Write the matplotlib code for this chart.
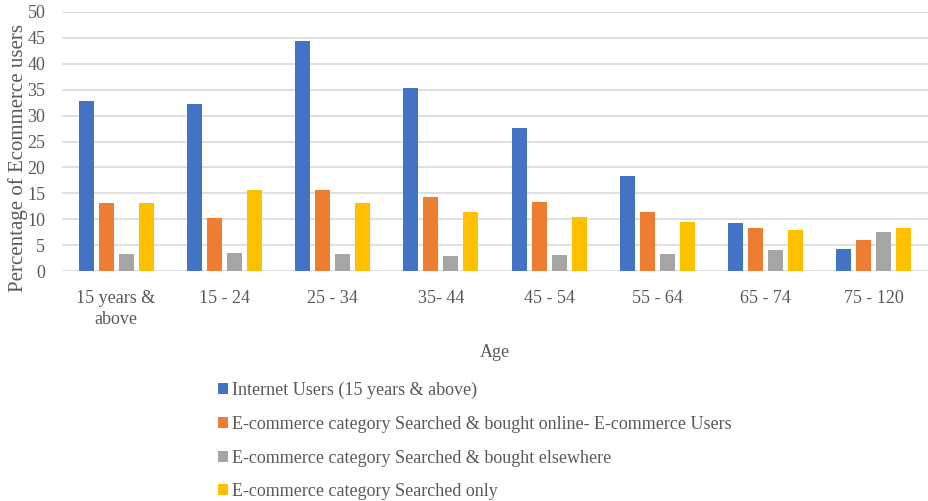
import matplotlib
matplotlib.use("Agg")
import matplotlib.pyplot as plt
import numpy as np
from matplotlib.patches import Patch

categories = ["15 years &\nabove", "15 - 24", "25 - 34", "35- 44", "45 - 54", "55 - 64", "65 - 74", "75 - 120"]
series_names = [
    "Internet Users (15 years & above)",
    "E-commerce category Searched & bought online- E-commerce Users",
    "E-commerce category Searched & bought elsewhere",
    "E-commerce category Searched only",
]
internet_users = [32.8, 32.3, 44.4, 35.4, 27.6, 18.3, 9.2, 4.2]
bought_online = [13.2, 10.2, 15.7, 14.3, 13.3, 11.4, 8.3, 5.9]
bought_elsewhere = [3.3, 3.5, 3.2, 2.9, 3.0, 3.2, 4.0, 7.5]
searched_only = [13.2, 15.6, 13.2, 11.4, 10.5, 9.4, 8.0, 8.3]
yticks = [0, 5, 10, 15, 20, 25, 30, 35, 40, 45, 50]

colors = ["#4472C4", "#ED7D31", "#A5A5A5", "#FFC000"]
txt = "#595959"
plt.rcParams['font.family'] = ['Liberation Serif', 'DejaVu Serif']

fig = plt.figure(figsize=(9.29, 5.01), dpi=100)
ax = fig.add_axes([62/929, 1-271/501, (928-62)/929, (271-12)/501])

x = np.arange(len(categories))
data = [internet_users, bought_online, bought_elsewhere, searched_only]
w = 0.14
step = 0.185
for i, (vals, c) in enumerate(zip(data, colors)):
    ax.bar(x + (i - 1.5) * step, vals, width=w, color=c, zorder=3)

ax.set_xlim(-0.5, len(categories) - 0.5)
ax.set_ylim(0, 50)
ax.set_yticks(yticks)
ax.set_xticks(x)
ax.set_xticklabels(categories, fontsize=13, color=txt, linespacing=1.3)
ax.tick_params(axis='y', labelsize=13, colors=txt, length=0, pad=12)
ax.tick_params(axis='x', length=0, pad=14)
ax.grid(axis='y', color='#D9D9D9', linewidth=1.2, zorder=0)
for s in ax.spines.values():
    s.set_visible(False)
ax.set_ylabel("Percentage of Ecommerce users", fontsize=15, color=txt)
ax.yaxis.set_label_coords((28-62)/866, (271-158)/259)
ax.set_xlabel("Age", fontsize=13, color=txt, labelpad=11)

handles = [Patch(facecolor=c) for c in colors]
fig.legend(handles, series_names, loc='upper left', bbox_to_anchor=(218/929, 1-382/501),
           frameon=False, fontsize=13, labelcolor=txt, handlelength=0.55, handleheight=0.55,
           handletextpad=0.2, labelspacing=0.92, borderaxespad=0, borderpad=0)

fig.savefig("out.png", dpi=100)
